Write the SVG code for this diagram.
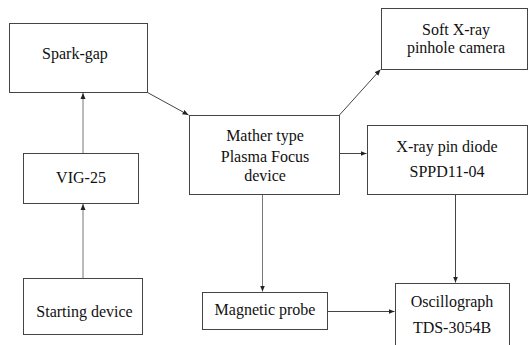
<svg xmlns="http://www.w3.org/2000/svg" width="528" height="345" viewBox="0 0 528 345">
  <style>
    .box { fill: #ffffff; stroke: #444444; stroke-width: 1; }
    .lbl { font-size: 16px; fill: #111111; text-anchor: middle; }
    .conn { stroke: #444444; stroke-width: 1; fill: none; marker-end: url(#arrow); }
    .conn.soft { stroke: #777777; }
  </style>
  <defs>
    <marker id="arrow" viewBox="0 0 6 6" refX="6" refY="3" markerWidth="6" markerHeight="6" orient="auto" markerUnits="userSpaceOnUse">
      <path d="M0,0.5 L6,3 L0,5.5 Z" fill="#222222"/>
    </marker>
  </defs>
  <rect width="528" height="345" fill="#ffffff"/>

  <g id="connectors">
    <line class="conn soft" x1="83" y1="153" x2="83" y2="93"/>
    <line class="conn soft" x1="83" y1="278" x2="83" y2="204"/>
    <line class="conn" x1="147.5" y1="92.5" x2="188.5" y2="115"/>
    <line class="conn" x1="339.5" y1="115" x2="380.5" y2="69.5"/>
    <line class="conn" x1="339.5" y1="153.5" x2="366.5" y2="153.5"/>
    <line class="conn soft" x1="262.5" y1="194.5" x2="262.5" y2="291.5"/>
    <line class="conn" x1="455.5" y1="194.5" x2="455.5" y2="282.5"/>
    <line class="conn" x1="327.5" y1="311.5" x2="394.5" y2="311.5"/>
  </g>

  <g font-family="Liberation Serif, DejaVu Serif, serif">
  <g id="spark-gap">
    <rect class="box" x="9.5" y="23.5" width="138" height="69"/>
    <text class="lbl" x="75" y="59">Spark-gap</text>
  </g>

  <g id="vig-25">
    <rect class="box" x="23.5" y="153.5" width="115" height="50"/>
    <text class="lbl" x="81" y="183">VIG-25</text>
  </g>

  <g id="starting-device">
    <rect class="box" x="23.5" y="278.5" width="119" height="56"/>
    <text class="lbl" x="84.5" y="317">Starting device</text>
  </g>

  <g id="plasma-focus">
    <rect class="box" x="189.5" y="115.5" width="150" height="79"/>
    <text class="lbl" x="265" y="141">Mather type</text>
    <text class="lbl" x="265" y="162">Plasma Focus</text>
    <text class="lbl" x="265" y="181">device</text>
  </g>

  <g id="pinhole-camera">
    <rect class="box" x="381.5" y="8.5" width="146" height="61"/>
    <text class="lbl" x="456" y="35">Soft X-ray</text>
    <text class="lbl" x="456" y="53">pinhole camera</text>
  </g>

  <g id="pin-diode">
    <rect class="box" x="367.5" y="125.5" width="160" height="69"/>
    <text class="lbl" x="447" y="152">X-ray pin diode</text>
    <text class="lbl" x="447" y="177">SPPD11-04</text>
  </g>

  <g id="magnetic-probe">
    <rect class="box" x="202.5" y="292.5" width="125" height="37"/>
    <text class="lbl" x="265" y="315">Magnetic probe</text>
  </g>

  <g id="oscillograph">
    <rect class="box" x="395.5" y="283.5" width="114" height="70"/>
    <text class="lbl" x="452" y="307">Oscillograph</text>
    <text class="lbl" x="452" y="333">TDS-3054B</text>
  </g>
  </g>
</svg>
